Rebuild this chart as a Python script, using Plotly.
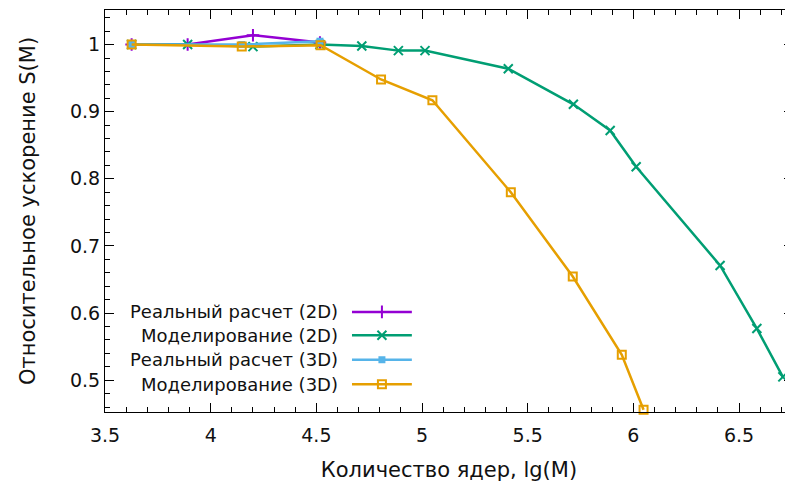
import plotly.graph_objects as go

# ---- data ----
x_real_2d = [3.626, 3.891, 4.200, 4.517]
y_real_2d = [1.000, 1.000, 1.014, 1.003]

x_model_2d = [3.626, 3.891, 4.200, 4.517, 4.715, 4.888, 5.014, 5.408, 5.716, 5.890, 6.013, 6.410, 6.584, 6.707]
y_model_2d = [1.000, 1.000, 0.997, 1.000, 0.998, 0.991, 0.991, 0.964, 0.911, 0.872, 0.818, 0.671, 0.577, 0.505]

x_real_3d = [3.626, 4.147, 4.517]
y_real_3d = [1.000, 1.000, 1.005]

x_model_3d = [3.626, 4.147, 4.520, 4.806, 5.049, 5.420, 5.713, 5.945, 6.048]
y_model_3d = [1.000, 0.997, 0.999, 0.948, 0.917, 0.780, 0.6545, 0.538, 0.456]

series_names = ["Реальный расчет (2D)", "Моделирование (2D)", "Реальный расчет (3D)", "Моделирование (3D)"]
series_colors = ["#9400D3", "#009E73", "#56B4E9", "#E69F00"]
series_symbols = ["cross-thin", "x-thin", "square", "square-open"]

x_title = "Количество ядер, lg(M)"
y_title = "Относительное ускорение S(M)"

FONT = "DejaVu Sans, sans-serif"
TXT = "#111111"

fig = go.Figure()

data = [(x_real_2d, y_real_2d), (x_model_2d, y_model_2d), (x_real_3d, y_real_3d), (x_model_3d, y_model_3d)]

def marker_for(i):
    sym = series_symbols[i]
    c = series_colors[i]
    if sym in ("cross-thin", "x-thin"):
        return dict(symbol=sym, size=9, color=c, line=dict(color=c, width=2))
    if sym == "square":
        return dict(symbol=sym, size=7, color=c, line=dict(width=0))
    return dict(symbol=sym, size=8, color=c, line=dict(color=c, width=2))

for i, (xs, ys) in enumerate(data):
    fig.add_trace(go.Scatter(
        x=xs, y=ys, mode="lines+markers", name=series_names[i],
        line=dict(color=series_colors[i], width=2.5),
        marker=marker_for(i), showlegend=False, cliponaxis=False,
    ))

# ---- gnuplot-style key: text on the left, sample on the right ----
key_rows = [0.249, 0.191, 0.130, 0.069]
key_x0, key_x1 = 0.359, 0.446
for i in range(4):
    fig.add_trace(go.Scatter(
        x=[key_x0, key_x1], y=[key_rows[i], key_rows[i]], xaxis="x2", yaxis="y2",
        mode="lines", line=dict(color=series_colors[i], width=2.5),
        showlegend=False, hoverinfo="skip",
    ))
    fig.add_trace(go.Scatter(
        x=[(key_x0 + key_x1) / 2], y=[key_rows[i]], xaxis="x2", yaxis="y2",
        mode="markers", marker=marker_for(i), showlegend=False, hoverinfo="skip",
    ))
    fig.add_annotation(
        x=0.3416, y=key_rows[i], xref="paper", yref="paper", text=series_names[i],
        showarrow=False, xanchor="right", yanchor="middle",
        font=dict(family=FONT, size=18, color=TXT),
    )

axis_common = dict(
    showline=True, linecolor="black", linewidth=1, mirror="ticks",
    ticks="inside", ticklen=9, tickwidth=1, tickcolor="black",
    showgrid=False, zeroline=False,
    tickfont=dict(family=FONT, size=19, color=TXT),
)

fig.update_layout(
    width=785, height=483,
    margin=dict(l=97, r=0, t=2, b=79.3),
    paper_bgcolor="white", plot_bgcolor="white",
    xaxis=dict(
        range=[3.5, 6.755], tick0=3.5, dtick=0.5, ticklabelstandoff=6,
        minor=dict(ticks="inside", ticklen=5, dtick=0.1, tickcolor="black", showgrid=False),
        title=dict(text=x_title, font=dict(family=FONT, size=21, color=TXT), standoff=17),
        automargin=False, **axis_common,
    ),
    yaxis=dict(
        range=[0.4527, 1.0515], tick0=0.5, dtick=0.1,
        minor=dict(ticks="inside", ticklen=5, dtick=0.02, tickcolor="black", showgrid=False),
        title=dict(text=y_title, font=dict(family=FONT, size=21, color=TXT), standoff=28),
        automargin=False, **axis_common,
    ),
    xaxis2=dict(range=[0, 1], overlaying="x", visible=False, anchor="y2"),
    yaxis2=dict(range=[0, 1], overlaying="y", visible=False, anchor="x2"),
)

fig.write_html("out.html")
